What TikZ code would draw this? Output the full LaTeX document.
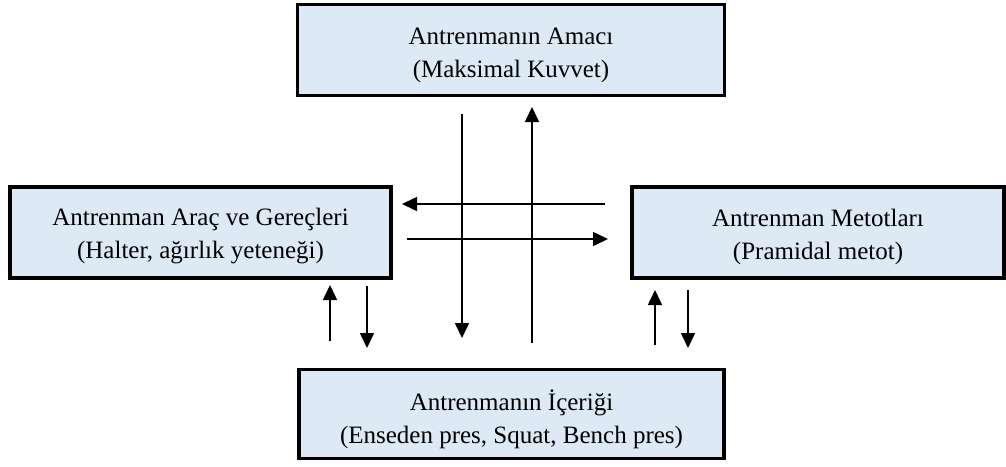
\documentclass[tikz,border=0pt]{standalone}
\usepackage{fontspec}
\setmainfont{Liberation Serif}
\usetikzlibrary{arrows.meta}
\definecolor{boxfill}{RGB}{221,233,245}
\tikzset{
  box/.style={draw=black, line width=3.5pt, fill=boxfill, rectangle, inner sep=0pt},
  txt/.style={align=center, inner sep=0pt, font=\fontsize{25}{33}\selectfont},
  arr/.style={line width=1.6pt, -{Triangle[length=15pt,width=14pt]}}
}
\begin{document}
\begin{tikzpicture}[x=1pt,y=-1pt]
\useasboundingbox (0,0) rectangle (1006,466);
\node[box, minimum width=427pt, minimum height=91pt] (amac) at (511,50) {};
\node[box, minimum width=381pt, minimum height=91pt] (arac) at (200.5,232.5) {};
\node[box, minimum width=372pt, minimum height=91pt] (metot) at (818,232.5) {};
\node[box, minimum width=425pt, minimum height=89pt] (icerik) at (511.5,414) {};
\node[txt] (amact) at ([yshift=-5pt]amac.center) {Antrenmanın Amacı\\(Maksimal Kuvvet)};
\node[txt] (aract) at ([yshift=-4pt]arac.center) {Antrenman Araç ve Gereçleri\\(Halter, ağırlık yeteneği)};
\node[txt] (metott) at ([yshift=-4pt]metot.center) {Antrenman Metotları\\(Pramidal metot)};
\node[txt] (icerikt) at ([yshift=-5pt]icerik.center) {Antrenmanın İçeriği\\(Enseden pres, Squat, Bench pres)};
% arrow end points
\coordinate (cd1) at (462,114); \coordinate (cd2) at (462,338);
\coordinate (cu1) at (532,343); \coordinate (cu2) at (532,107);
\coordinate (hl1) at (605,204); \coordinate (hl2) at (402,204);
\coordinate (hr1) at (407,239); \coordinate (hr2) at (608,239);
\coordinate (lu1) at (330,341); \coordinate (lu2) at (330,285);
\coordinate (ld1) at (367,286); \coordinate (ld2) at (367,348);
\coordinate (ru1) at (655,345); \coordinate (ru2) at (655,290);
\coordinate (rd1) at (688,290); \coordinate (rd2) at (688,348);
\draw[arr] (cd1) -- (cd2);
\draw[arr] (cu1) -- (cu2);
\draw[arr] (hl1) -- (hl2);
\draw[arr] (hr1) -- (hr2);
\draw[arr] (lu1) -- (lu2);
\draw[arr] (ld1) -- (ld2);
\draw[arr] (ru1) -- (ru2);
\draw[arr] (rd1) -- (rd2);
\end{tikzpicture}
\end{document}
